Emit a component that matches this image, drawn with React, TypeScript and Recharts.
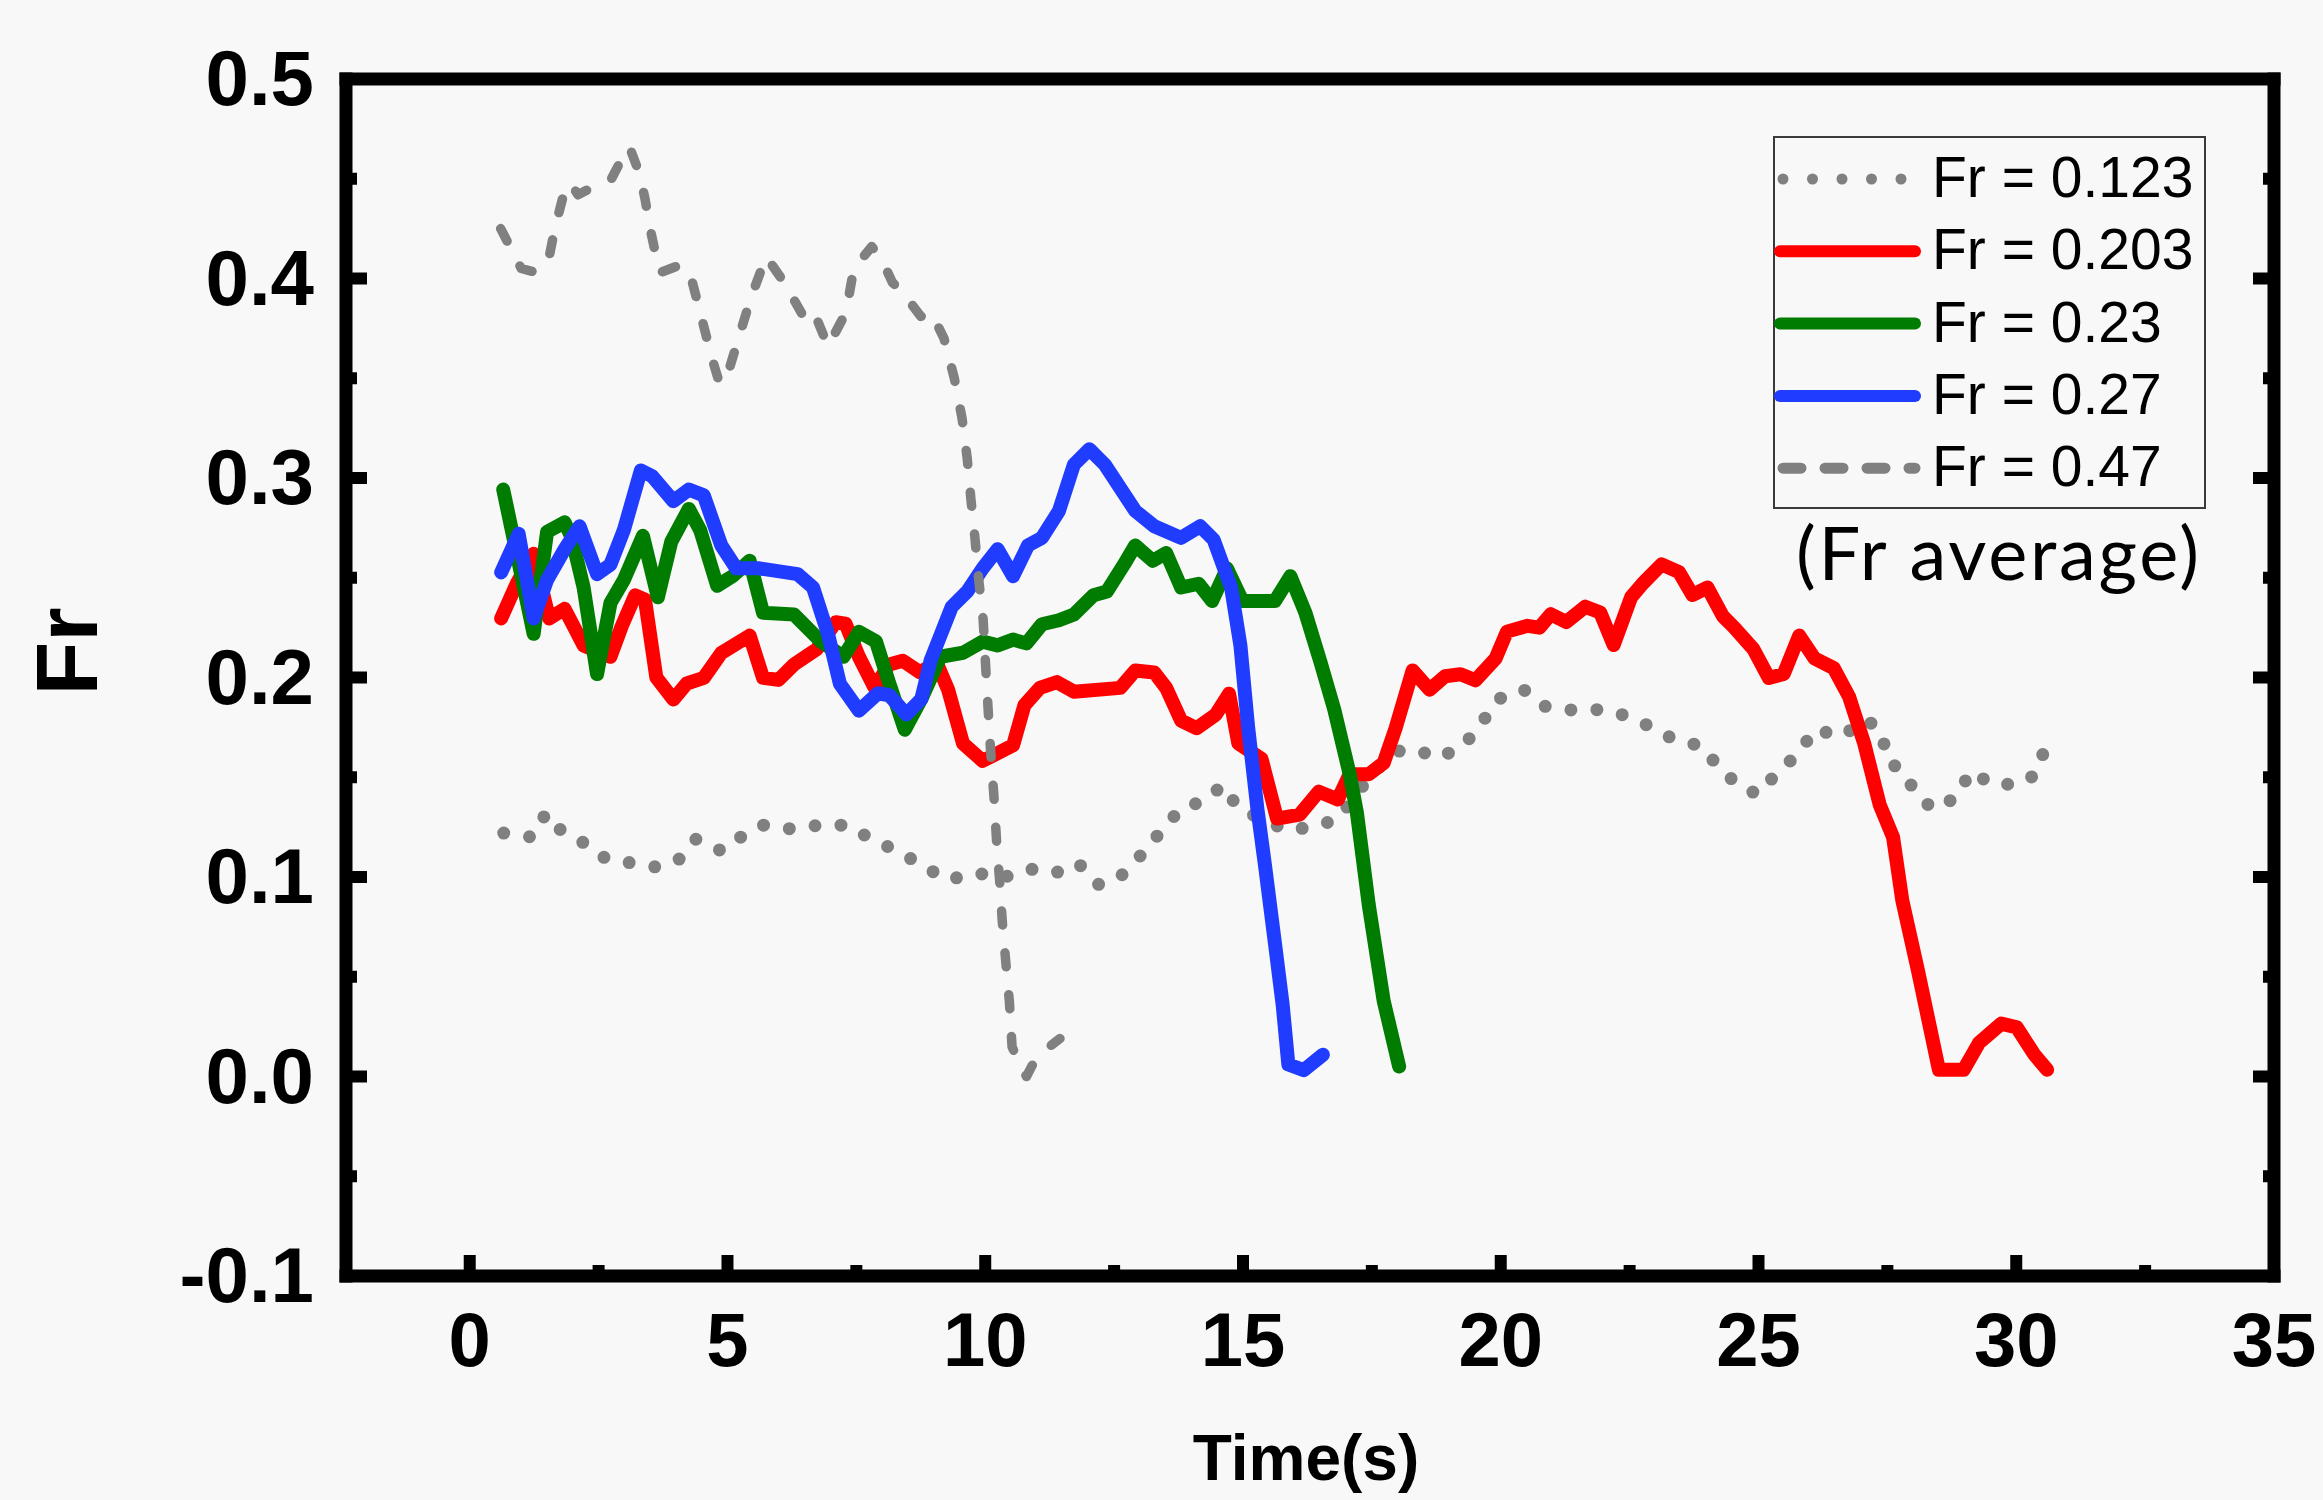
import React from "react"
import { LineChart, Line, XAxis, YAxis } from "recharts"

// Fr time series, [time (s), Fr] pairs
const FR_0123: [number, number][] = [
  [0.66, 0.122], [1.21, 0.12], [1.48, 0.132], [1.74, 0.124], [2.16, 0.118], [2.65, 0.109],
  [3.15, 0.107], [3.57, 0.105], [4.03, 0.108], [4.39, 0.119], [4.89, 0.113], [5.31, 0.121],
  [5.69, 0.126], [6.27, 0.124], [6.78, 0.126], [7.33, 0.126], [7.79, 0.119], [8.3, 0.113],
  [8.77, 0.106], [9.26, 0.0985], [9.84, 0.102], [10.32, 0.0995], [10.87, 0.104], [11.36, 0.102],
  [11.8, 0.107], [12.21, 0.096], [12.65, 0.101], [13.06, 0.112], [13.43, 0.1235], [13.8, 0.1345],
  [14.24, 0.138], [14.61, 0.146], [14.91, 0.1345], [15.84, 0.1235], [16.36, 0.125], [16.84, 0.129],
  [17.45, 0.15], [17.96, 0.163], [18.39, 0.1637], [18.75, 0.1595], [19.25, 0.165], [19.62, 0.1767],
  [19.93, 0.189], [20.44, 0.194], [20.87, 0.1854], [21.43, 0.1835], [21.98, 0.184], [22.41, 0.181],
  [22.85, 0.176], [23.36, 0.169], [23.9, 0.1656], [24.26, 0.154], [24.68, 0.1446], [25.0, 0.1415],
  [25.35, 0.152], [25.78, 0.162], [26.09, 0.174], [26.61, 0.1705], [27.09, 0.179], [27.38, 0.173],
  [27.51, 0.158], [27.82, 0.1527], [28.05, 0.1418], [28.39, 0.134], [28.85, 0.14], [29.11, 0.153],
  [29.57, 0.146], [30.12, 0.147], [30.4, 0.152], [30.57, 0.166],
]

const FR_0203: [number, number][] = [
  [0.61, 0.2296], [0.91, 0.247], [1.24, 0.262], [1.54, 0.2296], [1.84, 0.2344], [2.21, 0.216],
  [2.73, 0.2104], [2.95, 0.2258], [3.21, 0.2412], [3.4, 0.239], [3.62, 0.2], [3.95, 0.189],
  [4.21, 0.197], [4.54, 0.1998], [4.88, 0.2123], [5.43, 0.221], [5.69, 0.1998], [5.99, 0.1988],
  [6.29, 0.2065], [6.73, 0.2142], [7.1, 0.2277], [7.29, 0.227], [7.55, 0.2104], [7.85, 0.195],
  [8.14, 0.2065], [8.4, 0.2084], [8.73, 0.2027], [9.06, 0.2073], [9.28, 0.1939], [9.57, 0.1669],
  [9.95, 0.1582], [10.54, 0.166], [10.76, 0.1861], [11.06, 0.1948], [11.39, 0.1977], [11.72, 0.1929],
  [12.62, 0.1948], [12.91, 0.2035], [13.28, 0.2025], [13.51, 0.1948], [13.8, 0.1784], [14.1, 0.1746],
  [14.47, 0.1813], [14.73, 0.1919], [14.91, 0.1669], [15.36, 0.1592], [15.66, 0.1293], [16.1, 0.1313],
  [16.47, 0.1428], [16.84, 0.1389], [17.07, 0.1515], [17.44, 0.1515], [17.73, 0.1572], [17.96, 0.1746],
  [18.29, 0.2035], [18.62, 0.1939], [18.92, 0.2006], [19.22, 0.2016], [19.51, 0.1986], [19.9, 0.2095],
  [20.12, 0.223], [20.52, 0.2259], [20.75, 0.225], [20.97, 0.2317], [21.27, 0.2278], [21.64, 0.2355],
  [21.93, 0.2326], [22.19, 0.2163], [22.53, 0.2403], [22.75, 0.247], [23.12, 0.2567], [23.46, 0.2528],
  [23.72, 0.2413], [24.01, 0.2451], [24.31, 0.2307], [24.53, 0.225], [24.9, 0.2143], [25.2, 0.1998],
  [25.49, 0.2018], [25.79, 0.221], [26.09, 0.2095], [26.46, 0.2047], [26.76, 0.1902], [27.05, 0.167],
  [27.35, 0.1363], [27.61, 0.12], [27.79, 0.0882], [28.09, 0.0535], [28.5, 0.0034], [28.98, 0.0034],
  [29.28, 0.0169], [29.71, 0.0265], [30.01, 0.0246], [30.35, 0.011], [30.6, 0.0034],
]

const FR_023: [number, number][] = [
  [0.65, 0.2942], [1.24, 0.2219], [1.5, 0.273], [1.84, 0.2778], [1.98, 0.27], [2.21, 0.245],
  [2.47, 0.2017], [2.73, 0.2373], [2.99, 0.2489], [3.36, 0.271], [3.65, 0.2402], [3.91, 0.2681],
  [4.25, 0.2845], [4.47, 0.2739], [4.8, 0.246], [5.1, 0.2508], [5.43, 0.2585], [5.69, 0.2325],
  [6.29, 0.2316], [6.81, 0.2181], [7.25, 0.2104], [7.55, 0.2229], [7.88, 0.2181], [8.14, 0.1969],
  [8.44, 0.1738], [8.76, 0.1892], [9.13, 0.2104], [9.57, 0.2124], [9.95, 0.218], [10.24, 0.2161],
  [10.54, 0.219], [10.8, 0.2171], [11.1, 0.2267], [11.43, 0.2287], [11.72, 0.2316], [12.1, 0.2412],
  [12.36, 0.2431], [12.69, 0.2566], [12.91, 0.2662], [13.25, 0.2585], [13.51, 0.2624], [13.8, 0.2451],
  [14.14, 0.247], [14.4, 0.2383], [14.69, 0.2547], [14.99, 0.2383], [15.62, 0.2383], [15.92, 0.2508],
  [16.21, 0.2325], [16.5, 0.208], [16.77, 0.184], [17.07, 0.1515], [17.21, 0.1322], [17.44, 0.086],
  [17.73, 0.0378], [18.03, 0.005],
]

const FR_027: [number, number][] = [
  [0.61, 0.2527], [0.95, 0.272], [1.24, 0.2296], [1.5, 0.2489], [1.84, 0.2643], [2.13, 0.2758],
  [2.47, 0.2518], [2.73, 0.2566], [2.99, 0.2739], [3.32, 0.3038], [3.54, 0.3009], [3.95, 0.2884],
  [4.25, 0.2942], [4.54, 0.2913], [4.88, 0.2662], [5.17, 0.2547], [5.62, 0.2547], [6.36, 0.2518],
  [6.66, 0.2451], [6.95, 0.2219], [7.18, 0.1969], [7.55, 0.1834], [7.92, 0.1921], [8.14, 0.1911],
  [8.47, 0.1815], [8.76, 0.1892], [8.94, 0.2085], [9.35, 0.2354], [9.65, 0.2431], [9.95, 0.2547],
  [10.24, 0.2643], [10.54, 0.2508], [10.83, 0.2662], [11.1, 0.27], [11.43, 0.2835], [11.72, 0.3067],
  [12.02, 0.3144], [12.32, 0.3067], [12.91, 0.2835], [13.28, 0.2758], [13.8, 0.27], [14.17, 0.2758],
  [14.43, 0.2691], [14.77, 0.2451], [14.95, 0.2161], [15.1, 0.175], [15.28, 0.1341], [15.43, 0.1052],
  [15.62, 0.0667], [15.77, 0.0359], [15.88, 0.006], [16.18, 0.0032], [16.55, 0.0109],
]

const FR_047: [number, number][] = [
  [0.6, 0.425], [0.8, 0.415], [1.0, 0.405], [1.3, 0.403], [1.55, 0.412], [1.65, 0.425],
  [1.8, 0.44], [1.95, 0.448], [2.1, 0.442], [2.4, 0.446], [2.75, 0.45], [2.95, 0.46],
  [3.1, 0.466], [3.3, 0.452], [3.4, 0.44], [3.5, 0.425], [3.65, 0.407], [3.7, 0.403],
  [4.1, 0.407], [4.3, 0.4], [4.5, 0.38], [4.7, 0.36], [4.85, 0.347], [5.05, 0.356],
  [5.25, 0.373], [5.45, 0.39], [5.75, 0.411], [6.1, 0.398], [6.45, 0.382], [6.65, 0.385],
  [6.95, 0.366], [7.3, 0.383], [7.45, 0.405], [7.8, 0.416], [8.0, 0.409], [8.2, 0.398],
  [8.4, 0.393], [8.75, 0.381], [8.95, 0.383], [9.2, 0.37], [9.4, 0.35], [9.55, 0.33],
  [9.65, 0.31], [9.72, 0.29], [9.8, 0.27], [9.87, 0.25], [9.96, 0.229], [10.02, 0.2],
  [10.1, 0.165], [10.17, 0.14], [10.22, 0.118], [10.28, 0.098], [10.33, 0.078], [10.4, 0.057],
  [10.47, 0.037], [10.52, 0.015], [10.6, 0.01], [10.8, 0.0], [11.0, 0.01], [11.45, 0.019],
]

const X_TICKS = [0, 2.5, 5, 7.5, 10, 12.5, 15, 17.5, 20, 22.5, 25, 27.5, 30, 32.5, 35]
const Y_TICKS = [-0.1, -0.05, 0, 0.05, 0.1, 0.15, 0.2, 0.25, 0.3, 0.35, 0.4, 0.45, 0.5]

const GRAY = "#808080"
const RED = "#ff0000"
const GREEN = "#007c00"
const BLUE = "#1f3cff"
const AXIS_FONT = "'Liberation Sans', Arial, Helvetica, sans-serif"

const SERIES = [
  { key: "fr0123", name: "Fr = 0.123", points: FR_0123, color: GRAY, width: 13, dash: "0 26", legendDash: "0 29.5" },
  { key: "fr0203", name: "Fr = 0.203", points: FR_0203, color: RED, width: 14, dash: undefined, legendDash: undefined },
  { key: "fr023", name: "Fr = 0.23", points: FR_023, color: GREEN, width: 14, dash: undefined, legendDash: undefined },
  { key: "fr027", name: "Fr = 0.27", points: FR_027, color: BLUE, width: 14, dash: undefined, legendDash: undefined },
  { key: "fr047", name: "Fr = 0.47", points: FR_047, color: GRAY, width: 9.5, dash: "14 28", legendDash: "18 24" },
]

const isMajorX = (v: number) => Math.abs(v % 5) < 1e-6
const isMajorY = (v: number) => Math.abs(v * 10 - Math.round(v * 10)) < 1e-6

const MAJOR_LEN = 21
const MINOR_LEN = 11
const TICK_W = 12

function BottomTick({ x, y, payload }: any) {
  const v = payload.value
  const major = isMajorX(v)
  return (
    <g>
      <line x1={x} x2={x} y1={y} y2={y - (major ? MAJOR_LEN : MINOR_LEN)} stroke="#000" strokeWidth={TICK_W} />
      {major && (
        <text x={x} y={y + 90} textAnchor="middle" fontSize={76} fontWeight={700} fontFamily={AXIS_FONT} fill="#000">
          {v}
        </text>
      )}
    </g>
  )
}

function TopTick({ x, y, payload }: any) {
  const major = isMajorX(payload.value)
  return <line x1={x} x2={x} y1={y} y2={y + (major ? MAJOR_LEN : MINOR_LEN)} stroke="#000" strokeWidth={TICK_W} />
}

function LeftTick({ x, y, payload }: any) {
  const v = payload.value
  const major = isMajorY(v)
  return (
    <g>
      <line x1={x} x2={x + (major ? MAJOR_LEN : MINOR_LEN)} y1={y} y2={y} stroke="#000" strokeWidth={TICK_W} />
      {major && (
        <text x={x - 32} y={y + 26} textAnchor="end" fontSize={78} fontWeight={700} fontFamily={AXIS_FONT} fill="#000">
          {v.toFixed(1)}
        </text>
      )}
    </g>
  )
}

function RightTick({ x, y, payload }: any) {
  const major = isMajorY(payload.value)
  return <line x1={x} x2={x - (major ? MAJOR_LEN : MINOR_LEN)} y1={y} y2={y} stroke="#000" strokeWidth={TICK_W} />
}

const frame = { stroke: "#000", strokeWidth: 13, strokeLinecap: "square" as const }

function LegendBox() {
  return (
    <svg width={460} height={500} style={{ position: "absolute", left: 1760, top: 120 }}>
      <rect x={14} y={17} width={431} height={371} fill="none" stroke="#3a3a3a" strokeWidth={2} />
      {SERIES.map((s, i) => {
        const ly = 59 + i * 72.3
        return (
          <g key={s.key}>
            <line
              x1={s.legendDash ? 23 : 20}
              x2={155}
              y1={ly}
              y2={ly}
              stroke={s.color}
              strokeWidth={s.legendDash ? 11 : 12}
              strokeDasharray={s.legendDash}
              strokeLinecap="round"
            />
            <text x={172} y={ly + 18} fontSize={57} fontFamily={AXIS_FONT} fill="#000">
              {s.name}
            </text>
          </g>
        )
      })}
      <text x={36} y={460} fontSize={74} fontFamily="Lato, 'Open Sans', sans-serif" fill="#000" textLength={403}>
        (Fr average)
      </text>
    </svg>
  )
}

export default function App() {
  return (
    <div style={{ position: "absolute", left: 0, top: 0, width: 2323, height: 1500, background: "#f8f8f8" }}>
      <LineChart width={2323} height={1500} margin={{ top: 0, right: 0, bottom: 0, left: 0 }}>
        <XAxis
          type="number"
          dataKey="t"
          domain={[-2.4, 35]}
          ticks={X_TICKS}
          interval={0}
          height={224}
          tickSize={0}
          tickMargin={0}
          axisLine={frame}
          tickLine={false}
          tick={<BottomTick />}
          allowDataOverflow
          label={{
            content: ({ viewBox }: any) => (
              <text
                x={(viewBox?.x ?? 346) + (viewBox?.width ?? 1928) / 2 - 4}
                y={1480}
                textAnchor="middle"
                fontSize={64}
                fontWeight={700}
                fontFamily={AXIS_FONT}
                fill="#000"
              >
                Time(s)
              </text>
            ),
          }}
        />
        <XAxis
          xAxisId="top"
          orientation="top"
          type="number"
          domain={[-2.4, 35]}
          ticks={X_TICKS}
          interval={0}
          height={79}
          tickSize={0}
          tickMargin={0}
          axisLine={frame}
          tickLine={false}
          tick={<TopTick />}
          allowDataOverflow
        />
        <YAxis
          type="number"
          domain={[-0.1, 0.5]}
          ticks={Y_TICKS}
          interval={0}
          width={346}
          tickSize={0}
          tickMargin={0}
          axisLine={frame}
          tickLine={false}
          tick={<LeftTick />}
          allowDataOverflow
          label={{
            content: ({ viewBox }: any) => {
              const cy = (viewBox?.y ?? 79) + (viewBox?.height ?? 1197) / 2 - 26
              return (
                <text
                  x={66}
                  y={cy}
                  transform={`rotate(-90 66 ${cy})`}
                  textAnchor="middle"
                  dominantBaseline="central"
                  fontSize={88}
                  fontWeight={700}
                  fontFamily={AXIS_FONT}
                  fill="#000"
                >
                  Fr
                </text>
              )
            },
          }}
        />
        <YAxis
          yAxisId="right"
          orientation="right"
          type="number"
          domain={[-0.1, 0.5]}
          ticks={Y_TICKS}
          interval={0}
          width={49}
          tickSize={0}
          tickMargin={0}
          axisLine={frame}
          tickLine={false}
          tick={<RightTick />}
          allowDataOverflow
        />
        {SERIES.map((s) => (
          <Line
            key={s.key}
            name={s.name}
            data={s.points.map(([t, v]) => ({ t, v }))}
            dataKey="v"
            type="linear"
            stroke={s.color}
            strokeWidth={s.width}
            strokeDasharray={s.dash}
            strokeLinecap="round"
            strokeLinejoin="round"
            dot={false}
            activeDot={false}
            isAnimationActive={false}
          />
        ))}
      </LineChart>
      <LegendBox />
    </div>
  )
}
